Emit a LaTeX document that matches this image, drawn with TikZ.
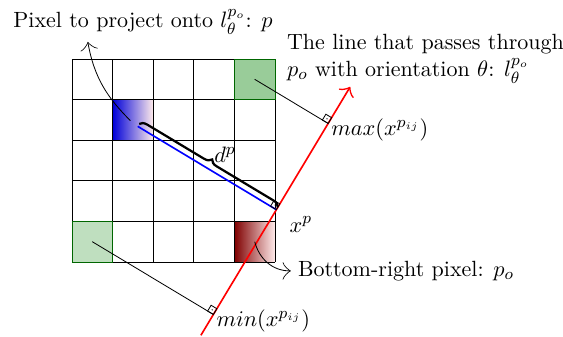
\documentclass[tikz,border=0pt]{standalone}
\usetikzlibrary{calc, arrows.meta, decorations.pathreplacing}

\begin{document}
\begin{tikzpicture}[
  x=7mm, y=7mm,
  font=\fontsize{10.8}{13}\selectfont,
  cellpx/.style={minimum size=7mm, inner sep=0pt, outer sep=0pt},
  extpx/.style={cellpx, draw=green!40!black},
  pointer/.style={-{Classical TikZ Rightarrow[length=4pt,width=8.5pt]}},
  projline/.style={thin},
  rangle/.pic={\draw[thin] (0,0) rectangle (3.3pt,3.3pt);
               \fill (1.65pt,1.65pt) circle (0.35pt);},
]
\useasboundingbox (-1.773,-1.823) rectangle (12.094,6.453);

% ------------------- pixels -------------------
\node[cellpx, left color=blue!85!black, right color=red!8] (pxp) at (1.5,3.5) {};
\node[cellpx, left color=red!50!black, right color=red!8] (pxo) at (4.5,0.5) {};
\draw[thin, step=7mm] (0,0) grid (5,5);
\node[extpx, fill=green!50!black!40] (pxmax) at (4.5,4.5) {};
\node[extpx, fill=green!50!black!25] (pxmin) at (0.5,0.5) {};

% ------------------- line through p_o -------------------
\coordinate (po) at (4.56,0.5);
\coordinate (lbeg) at ($(po)+(239:2.69)$);
\coordinate (lend) at ($(po)+(59:4.45)$);
\draw[pointer, red, thick] (lbeg) -- (lend);

% projections onto the line
\coordinate (p) at (1.52,3.4);
\coordinate (xp) at ($(lbeg)!(p)!(lend)$);
\coordinate (xmax) at ($(lbeg)!(pxmax.center)!(lend)$);
\coordinate (xmin) at ($(lbeg)!(pxmin.center)!(lend)$);

\draw[projline] (pxmax.center) -- (xmax);
\draw[projline] (pxmin.center) -- (xmin);
\draw[blue, thick, shorten <=2.3pt] (p) -- (xp);

\path (xmax) pic[rotate=59] {rangle};
\path (xmin) pic[rotate=59] {rangle};
\path (xp) pic[rotate=59] {rangle};

% distance brace
\draw[line width=1.1pt, decorate, decoration={brace, amplitude=3.5pt}]
  ($(p)!2.3pt!(xp) + (59:0.07)$) -- ($(xp) + (59:0.07)$);
\node (dlab) at (3.77,2.64) {$d^p$};

% ------------------- labels -------------------
\node[anchor=west, yshift=-3pt, xshift=-2pt] (maxlab) at (xmax) {$max(x^{p_{ij}})$};
\node[anchor=west, yshift=-3pt, xshift=-2pt] (minlab) at (xmin) {$min(x^{p_{ij}})$};
\node[anchor=north west, xshift=3pt] (xplab) at (xp) {$x^p$};

\node (projlab) at (1.75,5.91) {Pixel to project onto $l_\theta^{p_o}$: $p$};
\coordinate (projtip) at (0.39,5.42);
\draw[pointer, shorten <=2.3pt] (p) to[out=135, in=-80] (projtip);

\node[anchor=west, align=left] (linelab) at (5.12,5.0)
  {The line that passes through\\$p_o$ with orientation $\theta$: $l_\theta^{p_o}$};
\node[anchor=west] (botlab) at (5.39,-0.22) {Bottom-right pixel: $p_o$};
\draw[pointer] (pxo.center) to[out=-75, in=180] (botlab.west);

\end{tikzpicture}
\end{document}
